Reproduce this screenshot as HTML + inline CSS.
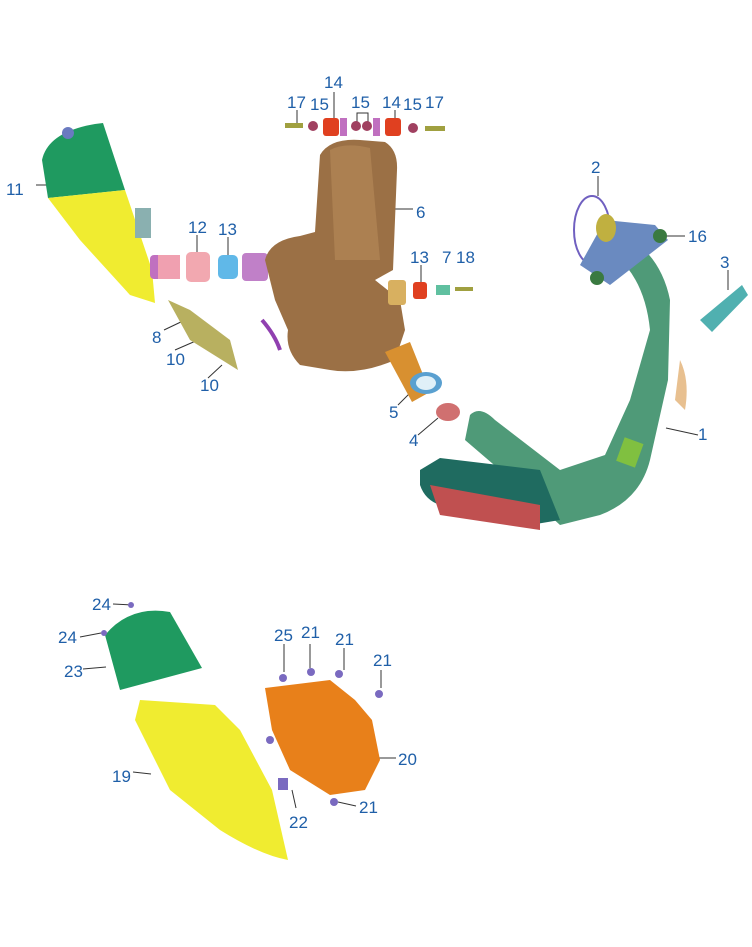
<!DOCTYPE html>
<html><head><style>
body{margin:0;background:#fff;}
svg text{font-family:"Liberation Sans",sans-serif;font-size:17px;fill:#1f5fa8;}
</style></head><body>
<svg width="752" height="942" viewBox="0 0 752 942" xmlns="http://www.w3.org/2000/svg">
<g stroke="#333" stroke-width="1" fill="none">
<line x1="36" y1="185" x2="46" y2="185"/>
<line x1="392" y1="209" x2="413" y2="209"/>
<line x1="297" y1="110" x2="297" y2="125"/>
<line x1="334" y1="92" x2="334" y2="120"/>
<polyline points="357,125 357,113 368,113 368,125"/>
<line x1="395" y1="110" x2="395" y2="120"/>
<line x1="197" y1="235" x2="197" y2="255"/>
<line x1="228" y1="237" x2="228" y2="258"/>
<line x1="421" y1="265" x2="421" y2="285"/>
<line x1="598" y1="176" x2="598" y2="196"/>
<line x1="665" y1="236" x2="685" y2="236"/>
<line x1="728" y1="270" x2="728" y2="290"/>
<line x1="164" y1="330" x2="185" y2="320"/>
<line x1="175" y1="350" x2="198" y2="340"/>
<line x1="208" y1="378" x2="222" y2="365"/>
<line x1="398" y1="405" x2="411" y2="392"/>
<line x1="418" y1="435" x2="438" y2="418"/>
<line x1="666" y1="428" x2="698" y2="435"/>
<line x1="113" y1="604" x2="132" y2="605"/>
<line x1="80" y1="637" x2="101" y2="633"/>
<line x1="83" y1="669" x2="106" y2="667"/>
<line x1="284" y1="644" x2="284" y2="672"/>
<line x1="310" y1="644" x2="310" y2="668"/>
<line x1="344" y1="648" x2="344" y2="670"/>
<line x1="381" y1="670" x2="381" y2="688"/>
<line x1="372" y1="758" x2="396" y2="758"/>
<line x1="133" y1="772" x2="151" y2="774"/>
<line x1="292" y1="790" x2="296" y2="808"/>
<line x1="338" y1="802" x2="356" y2="806"/>
</g>
<!-- 11 end cap -->
<path d="M42,160 Q48,132 95,124 L103,123 L125,190 L48,198 Z" fill="#1f9a60"/>
<circle cx="68" cy="133" r="6" fill="#6a7ac0"/>
<path d="M48,198 L125,190 L152,270 L155,303 L130,295 L80,240 Z" fill="#f0ec30"/>
<rect x="135" y="208" width="16" height="30" fill="#8ab0b0"/>
<!-- 12,13 -->
<rect x="150" y="255" width="30" height="24" rx="4" fill="#c070c0"/>
<rect x="158" y="255" width="22" height="24" fill="#f0a0b0"/>
<rect x="186" y="252" width="24" height="30" rx="5" fill="#f2a8b0"/>
<rect x="218" y="255" width="20" height="24" rx="5" fill="#60b8e8"/>
<rect x="242" y="253" width="26" height="28" rx="4" fill="#c080c8"/>
<!-- 8 -->
<path d="M168,300 L190,310 L230,340 L238,370 L190,340 Z" fill="#b8b060"/>
<!-- 6 muffler -->
<path d="M320,155 Q330,138 360,140 L385,142 Q398,150 397,170 L393,270 L375,280 L400,300 L405,330 L395,360 Q360,375 330,370 L300,365 Q285,350 288,330 L275,300 L265,260 Q270,240 300,236 L315,232 Z" fill="#9b7045"/>
<path d="M330,150 Q345,142 370,148 L380,260 L335,260 Z" fill="#b88a5a" opacity="0.6"/>
<path d="M262,320 Q275,335 280,350" stroke="#9040b0" stroke-width="4" fill="none"/>
<!-- bolts top -->
<rect x="285" y="123" width="18" height="5" fill="#a0a040"/>
<circle cx="313" cy="126" r="5" fill="#a04060"/>
<rect x="323" y="118" width="16" height="18" rx="3" fill="#e04020"/>
<rect x="340" y="118" width="7" height="18" fill="#c070c0"/>
<circle cx="356" cy="126" r="5" fill="#a04060"/>
<circle cx="367" cy="126" r="5" fill="#a04060"/>
<rect x="373" y="118" width="7" height="18" fill="#c070c0"/>
<rect x="385" y="118" width="16" height="18" rx="3" fill="#e04020"/>
<circle cx="413" cy="128" r="5" fill="#a04060"/>
<rect x="425" y="126" width="20" height="5" fill="#a0a040"/>
<!-- right small parts -->
<rect x="388" y="280" width="18" height="25" rx="3" fill="#d8b060"/>
<rect x="413" y="282" width="14" height="17" rx="3" fill="#e04020"/>
<rect x="436" y="285" width="14" height="10" fill="#60c0a0"/>
<rect x="455" y="287" width="18" height="4" fill="#a0a040"/>
<!-- outlet -->
<path d="M385,352 L410,342 L430,392 L412,402 Z" fill="#d89030"/>
<ellipse cx="426" cy="383" rx="16" ry="11" fill="#5aa0d0"/>
<ellipse cx="426" cy="383" rx="10" ry="7" fill="#e0f0f8"/>
<ellipse cx="448" cy="412" rx="12" ry="9" fill="#d07070"/>
<!-- pipe 1 -->
<path d="M470,415 Q480,405 495,420 L560,470 L605,455 L630,400 L650,330 Q645,280 615,255 L605,245 L615,230 Q660,250 670,300 L668,380 L650,460 Q640,500 600,515 L560,525 L500,470 L465,440 Z" fill="#4f9a78"/>
<path d="M420,470 L440,458 L540,470 L560,520 L530,525 L440,505 Q425,500 420,485 Z" fill="#1f6b60"/>
<path d="M430,485 L540,505 L540,530 L440,515 Z" fill="#c05050"/>
<rect x="620" y="440" width="20" height="25" fill="#80c040" transform="rotate(20 630 452)"/>
<path d="M680,360 Q690,380 685,410 L675,400 Z" fill="#e8c090"/>
<!-- flange 2,16 -->
<ellipse cx="592" cy="230" rx="18" ry="34" fill="none" stroke="#7060c0" stroke-width="2"/>
<path d="M580,265 L605,220 L655,225 L668,240 L610,285 Z" fill="#6a8ac0"/>
<ellipse cx="606" cy="228" rx="10" ry="14" fill="#c0b040"/>
<circle cx="660" cy="236" r="7" fill="#3a7a40"/>
<circle cx="597" cy="278" r="7" fill="#3a7a40"/>
<!-- 3 -->
<path d="M700,320 L742,285 L748,295 L712,332 Z" fill="#50b0b0"/>
<!-- lower: 23, 19, 20 -->
<path d="M105,635 Q130,605 170,612 L202,668 L120,690 Z" fill="#1f9a60"/>
<path d="M140,700 L215,705 L240,730 L272,790 L288,860 Q260,855 220,830 L170,790 L135,720 Z" fill="#f0ec30"/>
<path d="M265,688 L330,680 L355,700 L372,720 L380,760 L365,790 L330,795 L290,770 L272,730 Z" fill="#e8801a"/>
<g fill="#7a6ac0">
<circle cx="283" cy="678" r="4"/><circle cx="311" cy="672" r="4"/><circle cx="339" cy="674" r="4"/><circle cx="379" cy="694" r="4"/><circle cx="334" cy="802" r="4"/><circle cx="270" cy="740" r="4"/><rect x="278" y="778" width="10" height="12"/><circle cx="131" cy="605" r="3"/><circle cx="104" cy="633" r="3"/>
</g>
<!-- labels -->
<text x="287" y="108">17</text><text x="310" y="110">15</text><text x="324" y="88">14</text>
<text x="351" y="108">15</text><text x="382" y="108">14</text><text x="403" y="110">15</text><text x="425" y="108">17</text>
<text x="416" y="218">6</text><text x="6" y="195">11</text><text x="188" y="233">12</text><text x="218" y="235">13</text>
<text x="591" y="173">2</text><text x="688" y="242">16</text><text x="720" y="268">3</text>
<text x="410" y="263">13</text><text x="442" y="263">7</text><text x="456" y="263">18</text>
<text x="152" y="343">8</text><text x="166" y="365">10</text><text x="200" y="391">10</text>
<text x="389" y="418">5</text><text x="409" y="446">4</text><text x="698" y="440">1</text>
<text x="92" y="610">24</text><text x="58" y="643">24</text><text x="64" y="677">23</text>
<text x="274" y="641">25</text><text x="301" y="638">21</text><text x="335" y="645">21</text><text x="373" y="666">21</text>
<text x="398" y="765">20</text><text x="112" y="782">19</text><text x="289" y="828">22</text><text x="359" y="813">21</text>
</svg>
</body></html>
